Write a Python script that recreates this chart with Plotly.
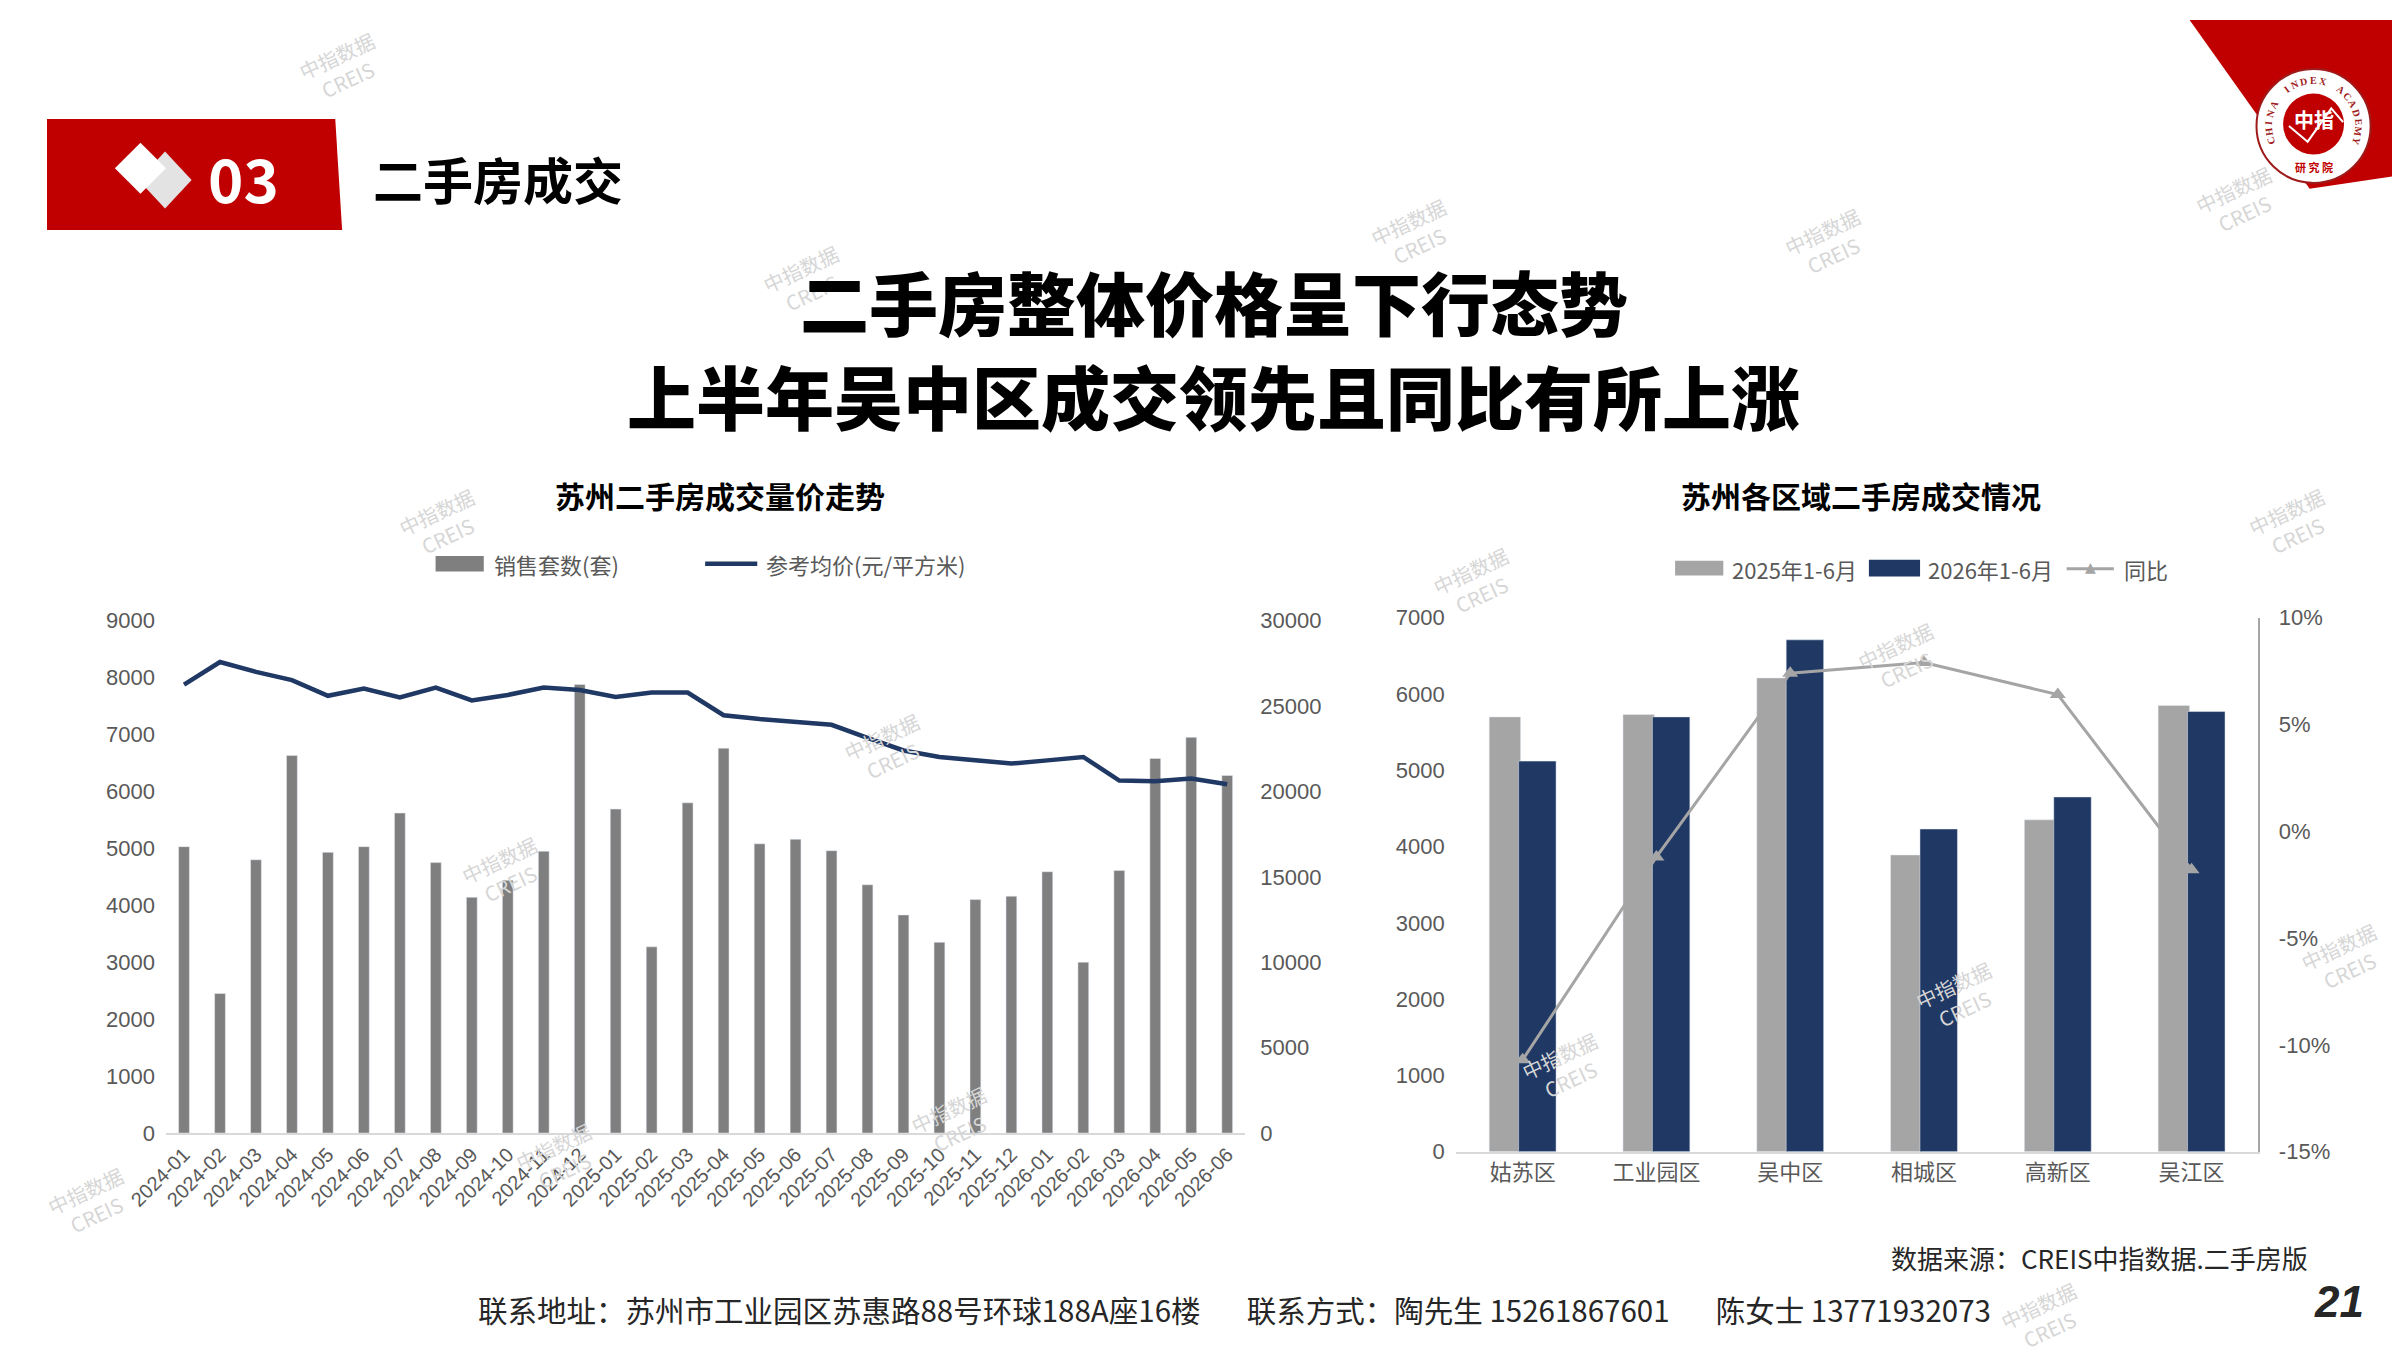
import math
import plotly.graph_objects as go

# ---- data ----
months = ["2024-01", "2024-02", "2024-03", "2024-04", "2024-05", "2024-06",
          "2024-07", "2024-08", "2024-09", "2024-10", "2024-11", "2024-12",
          "2025-01", "2025-02", "2025-03", "2025-04", "2025-05", "2025-06",
          "2025-07", "2025-08", "2025-09", "2025-10", "2025-11", "2025-12",
          "2026-01", "2026-02", "2026-03", "2026-04", "2026-05", "2026-06"]
sales = [5030, 2450, 4800, 6630, 4930, 5030, 5620, 4750, 4140, 4440, 4950, 7880,
         5690, 3270, 5800, 6760, 5080, 5160, 4960, 4360, 3830, 3350, 4100, 4160,
         4590, 3000, 4610, 6580, 6950, 6280]
price = [26250, 27580, 27000, 26520, 25600, 26030, 25500, 26080, 25330, 25650,
         26080, 25940, 25530, 25790, 25790, 24460, 24240, 24070, 23900, 23130,
         22400, 22020, 21820, 21630, 21820, 22020, 20640, 20590, 20760, 20420]

districts = ["姑苏区", "工业园区", "吴中区", "相城区", "高新区", "吴江区"]
deals_2025 = [5700, 5730, 6210, 3890, 4350, 5850]
deals_2026 = [5120, 5700, 6710, 4230, 4650, 5770]
yoy = [-0.107, -0.012, 0.074, 0.079, 0.064, -0.018]
yoy_ticks = [-0.15, -0.10, -0.05, 0.0, 0.05, 0.10]

W, H = 2400, 1350
CJK = "Noto Sans CJK SC"
NUM = "Liberation Sans, Noto Sans CJK SC"
GREY_TXT = "#595959"
NAVY = "#1f3864"
RED = "#c00000"
BAR_L = "#7f7f7f"
BAR_25 = "#a5a5a5"
BAR_26 = "#203864"


def px(x):
    return x / W


def py(y):
    return 1 - y / H


fig = go.Figure()

# left chart: volume + price
fig.add_trace(go.Bar(x=months, y=sales, name="销售套数(套)", marker_color=BAR_L,
                     width=0.3, xaxis="x", yaxis="y"))
fig.add_trace(go.Scatter(x=months, y=price, name="参考均价(元/平方米)", mode="lines",
                         line=dict(color=NAVY, width=4.5), xaxis="x", yaxis="y2"))

# right chart: districts
fig.add_trace(go.Bar(x=districts, y=deals_2025, name="2025年1-6月", marker_color=BAR_25,
                     offset=-0.25, width=0.235, xaxis="x2", yaxis="y3"))
fig.add_trace(go.Bar(x=districts, y=deals_2026, name="2026年1-6月", marker_color=BAR_26,
                     offset=-0.03, width=0.28, xaxis="x2", yaxis="y3"))
fig.add_trace(go.Scatter(x=districts, y=yoy, name="同比", mode="lines+markers",
                         line=dict(color=BAR_25, width=3),
                         marker=dict(symbol="triangle-up", size=14, color=BAR_25),
                         xaxis="x2", yaxis="y4"))

tick_font = dict(family=NUM, size=22, color=GREY_TXT)

fig.update_layout(
    width=W, height=H,
    margin=dict(l=0, r=0, t=0, b=0),
    paper_bgcolor="white", plot_bgcolor="white",
    barmode="group", showlegend=False,
    font=dict(family=CJK, color=GREY_TXT),
    xaxis=dict(domain=[px(121), px(1218)], anchor="y", type="category",
               tickangle=-45, tickfont=dict(family=NUM, size=20, color=GREY_TXT),
               showline=True, linecolor="#d9d9d9", linewidth=2, showgrid=False,
               ticks=""),
    yaxis=dict(domain=[py(1134), py(612)], range=[0, 9000], dtick=1000,
               showgrid=False, zeroline=False, tickfont=tick_font, ticklabelstandoff=10),
    yaxis2=dict(overlaying="y", side="right", range=[0, 30000], dtick=5000,
                tickformat="d", showgrid=False, zeroline=False, tickfont=tick_font,
                ticklabelstandoff=14),
    xaxis2=dict(domain=[px(1432), px(2248)], anchor="y3", type="category",
                tickfont=dict(family=CJK, size=22, color=GREY_TXT),
                showline=True, linecolor="#d9d9d9", linewidth=2, showgrid=False,
                ticks=""),
    yaxis3=dict(domain=[py(1153), py(609)], anchor="x2", range=[0, 7000], dtick=1000,
                showgrid=False, zeroline=False, tickfont=tick_font, ticklabelstandoff=10),
    yaxis4=dict(overlaying="y3", anchor="x2", side="right", range=[-0.15, 0.10],
                tickvals=yoy_ticks, ticktext=[f"{v:.0%}" for v in yoy_ticks],
                showgrid=False, zeroline=False,
                showline=True, linecolor="#a6a6a6", linewidth=2,
                tickfont=tick_font, ticklabelstandoff=14),
)


def path(points):
    s = "M " + " L ".join(f"{px(x):.5f} {py(y):.5f}" for x, y in points) + " Z"
    return s


shapes = []


def poly(points, color):
    shapes.append(dict(type="path", path=path(points), fillcolor=color, line_width=0,
                       xref="paper", yref="paper"))


def rect(x0, y0, x1, y1, color):
    shapes.append(dict(type="rect", x0=px(x0), x1=px(x1), y0=py(y1), y1=py(y0),
                       fillcolor=color, line_width=0, xref="paper", yref="paper"))


def hline(x0, x1, y, color, width):
    shapes.append(dict(type="line", x0=px(x0), x1=px(x1), y0=py(y), y1=py(y),
                       line=dict(color=color, width=width), xref="paper", yref="paper"))


def circle(cx, cy, r, fill, line=None):
    shapes.append(dict(type="circle", x0=px(cx - r), x1=px(cx + r), y0=py(cy + r),
                       y1=py(cy - r), fillcolor=fill,
                       line=line if line else dict(width=0), xref="paper", yref="paper"))


# header red bar + diamonds
poly([(0, 101), (293, 101), (300, 214), (0, 214)], RED)
poly([(120, 134), (147, 163), (120, 192), (93, 163)], "#e3e3e3")
poly([(95, 125), (121, 151), (95, 177), (69, 151)], "#ffffff")

# top right corner + logo
poly([(2178, 0), (2400, 0), (2400, 157), (2300, 172)], RED)
circle(2304, 108, 58, "white", dict(color="#9e1b1b", width=2))
circle(2304, 106, 31, RED)
shapes.append(dict(type="path", xref="paper", yref="paper",
                   path=f"M {px(2279):.5f} {py(108):.5f} L {px(2298):.5f} {py(124):.5f} "
                        f"L {px(2322):.5f} {py(90):.5f} L {px(2334):.5f} {py(104):.5f}",
                   line=dict(color="white", width=2)))

# manual legends
rect(395, 546, 444, 562, BAR_L)
hline(669, 722, 554, NAVY, 4.5)
rect(1655, 551, 1704, 566, BAR_25)
rect(1852, 550, 1904, 567, BAR_26)
hline(2053, 2101, 559, BAR_25, 3)

fig.update_layout(shapes=shapes)


def text(x, y, t, size, color="black", bold=False, xanchor="center", family=CJK,
         weight=None, angle=0, italic=False):
    fig.add_annotation(x=px(x), y=py(y), xref="paper", yref="paper", text=t,
                       showarrow=False, xanchor=xanchor, yanchor="middle", textangle=angle,
                       font=dict(family=family, size=size, color=color,
                                 weight=weight if weight else (700 if bold else 400),
                                 style="italic" if italic else "normal"))


# legend texts and triangle marker
text(452, 554, "销售套数(套)", 22, color=GREY_TXT, xanchor="left")
text(729, 554, "参考均价(元/平方米)", 22, color=GREY_TXT, xanchor="left")
text(1711, 559, "2025年1-6月", 22, color=GREY_TXT, xanchor="left")
text(1910, 559, "2026年1-6月", 22, color=GREY_TXT, xanchor="left")
text(2109, 559, "同比", 22, color=GREY_TXT, xanchor="left")
text(2077, 557, "▲", 14, color=BAR_25, family="DejaVu Sans")

# watermarks
marks = [(772, 265), (1390, 218), (1810, 228), (2228, 185), (402, 513), (1453, 573),
         (2282, 513), (854, 742), (1885, 650), (466, 868), (922, 1122), (1944, 995),
         (1543, 1067), (2335, 956), (520, 1160), (45, 1205), (300, 48), (2030, 1322)]
for mx, my in marks:
    text(mx, my, "中指数据<br>CREIS", 20, color="#d6d6d6", angle=-25)

text(200, 159, "03", 60, color="white", bold=True)
text(329, 161, "二手房成交", 50, bold=True, xanchor="left")

# logo texts
text(2304, 101, "中指", 20, color="white", bold=True)
text(2304, 150, "研 究 院", 11, color=RED, bold=True)
ring = "CHINA INDEX ACADEMY"
for i, ch in enumerate(ring):
    theta = math.radians(200 - i * 220 / (len(ring) - 1))
    lx = 2304 + 46 * math.cos(theta)
    ly = 108 - 46 * math.sin(theta)
    text(lx, ly, ch, 10, color="#9e1b1b", bold=True, family="Liberation Serif",
         angle=90 - math.degrees(theta))

text(1186, 286, "二手房整体价格呈下行态势", 69, weight=900)
text(1186, 382, "上半年吴中区成交领先且同比有所上涨", 69, weight=900)

text(684, 484, "苏州二手房成交量价走势", 30, bold=True)
text(1844, 484, "苏州各区域二手房成交情况", 30, bold=True)

gap = "&nbsp;" * 7
text(2300, 1261, "数据来源：CREIS中指数据.二手房版", 26, color="#262626", xanchor="right")
text(436, 1313, "联系地址：苏州市工业园区苏惠路88号环球188A座16楼" + gap +
     "联系方式：陶先生 15261867601" + gap + "陈女士 13771932073",
     29.5, color="#262626", xanchor="left")
text(2330, 1306, "21", 44, color="#262626", bold=True, italic=True, family="Liberation Sans")

fig.write_html("out.html")
